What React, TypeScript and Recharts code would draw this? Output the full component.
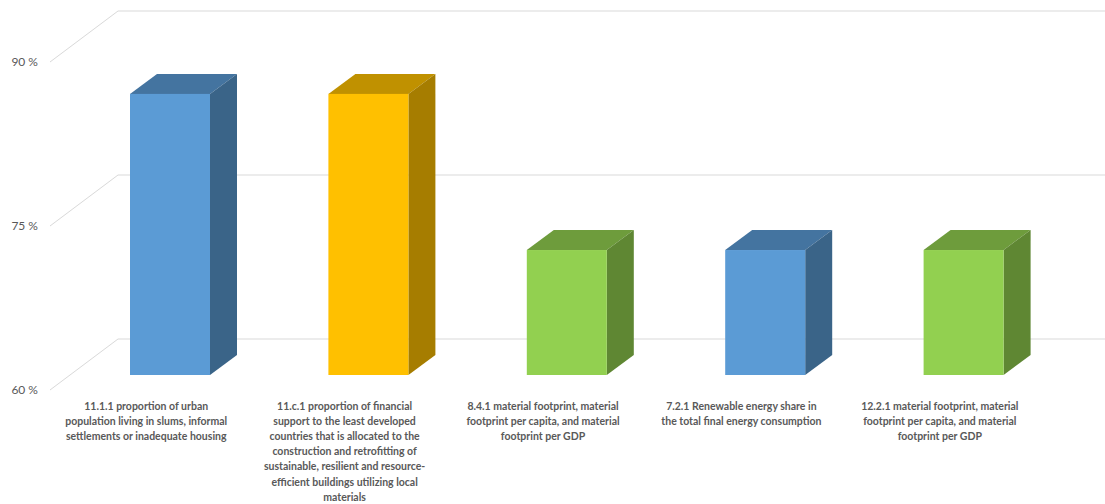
import React from 'react';
import { BarChart, Bar, XAxis, YAxis, CartesianGrid } from 'recharts';

const categoryLines: string[][] = [
  ['11.1.1 proportion of urban', 'population living in slums, informal', 'settlements or inadequate housing'],
  ['11.c.1 proportion of financial', 'support to the least developed', 'countries that is allocated to the', 'construction and retrofitting of', 'sustainable, resilient and resource-', 'efficient buildings utilizing local', 'materials'],
  ['8.4.1 material footprint, material', 'footprint per capita, and material', 'footprint per GDP'],
  ['7.2.1 Renewable energy share in', 'the total final energy consumption'],
  ['12.2.1 material footprint, material', 'footprint per capita, and material', 'footprint per GDP'],
];
const categories = categoryLines.map((l) => l.join(' ').replace('- ', '-'));
const values = [85.71, 85.71, 71.43, 71.43, 71.43];
const yTicks = [60, 75, 90];

const palette = {
  blue: { front: '#5B9BD5', top: '#4474A0', side: '#3A6488' },
  yellow: { front: '#FFC000', top: '#C09100', side: '#A67D00' },
  green: { front: '#92D050', top: '#6E9C3C', side: '#5F8733' },
};
const barColors = [palette.blue, palette.yellow, palette.green, palette.blue, palette.green];

const data = categories.map((name, i) => ({ name, value: values[i] }));

const DEPTH_X = 27;
const DEPTH_Y = -20;
const FRONT_DX = -21;
const FRONT_DY = 15;
const BACK_DX = 47;
const BACK_DY = -36;
const GRID = '#D9D9D9';
const TEXT = '#595959';
const FONT = 'Lato, "Open Sans", sans-serif';

const Prism = (props: any) => {
  const { x, y, width, height, index } = props;
  const c = barColors[index] || palette.blue;
  const x2 = x + width;
  const yb = y + height;
  return (
    <g>
      <polygon
        points={`${x},${y} ${x + DEPTH_X},${y + DEPTH_Y} ${x2 + DEPTH_X},${y + DEPTH_Y} ${x2},${y}`}
        fill={c.top}
      />
      <polygon
        points={`${x2},${y} ${x2 + DEPTH_X},${y + DEPTH_Y} ${x2 + DEPTH_X},${yb + DEPTH_Y} ${x2},${yb}`}
        fill={c.side}
      />
      <rect x={x} y={y} width={width} height={height} fill={c.front} />
    </g>
  );
};

const gridLine = (p: any) => {
  const { x1, y1, x2 } = p;
  return (
    <g key={`g-${y1}`}>
      <line x1={x1 + FRONT_DX} y1={y1 + FRONT_DY} x2={x1 + BACK_DX} y2={y1 + BACK_DY} stroke={GRID} strokeWidth={1} />
      <line x1={x1 + BACK_DX} y1={y1 + BACK_DY} x2={x2 + BACK_DX} y2={y1 + BACK_DY} stroke={GRID} strokeWidth={1} />
    </g>
  );
};

const YTick = (props: any) => {
  const { y, payload } = props;
  return (
    <text x={38} y={y + FRONT_DY + 4} textAnchor="end" fill={TEXT} fontSize={12} fontFamily={FONT}>
      {`${payload.value} %`}
    </text>
  );
};

const XTick = (props: any) => {
  const { x, y, payload } = props;
  const lines = categoryLines[payload.index] || [String(payload.value)];
  return (
    <text x={x - 24} y={y + 35} textAnchor="middle" fill={TEXT} fontSize={10.5} fontWeight={700} fontFamily={FONT}>
      {lines.map((l, i) => (
        <tspan key={i} x={x - 24} dy={i === 0 ? 0 : 15.1}>
          {l}
        </tspan>
      ))}
    </text>
  );
};

export default function App() {
  return (
    <div style={{ position: 'absolute', left: 0, top: 0, background: '#fff' }}>
      <BarChart width={1105} height={504} data={data} margin={{ top: 47, right: 42, bottom: 0, left: 11 }}>
        <CartesianGrid vertical={false} horizontal={gridLine} />
        <XAxis dataKey="name" axisLine={false} tickLine={false} tickSize={0} tickMargin={0} height={129} interval={0} tick={<XTick />} />
        <YAxis domain={[60, 90]} ticks={yTicks} axisLine={false} tickLine={false} width={60} tick={<YTick />} />
        <Bar dataKey="value" barSize={80} shape={<Prism />} isAnimationActive={false} />
      </BarChart>
    </div>
  );
}
